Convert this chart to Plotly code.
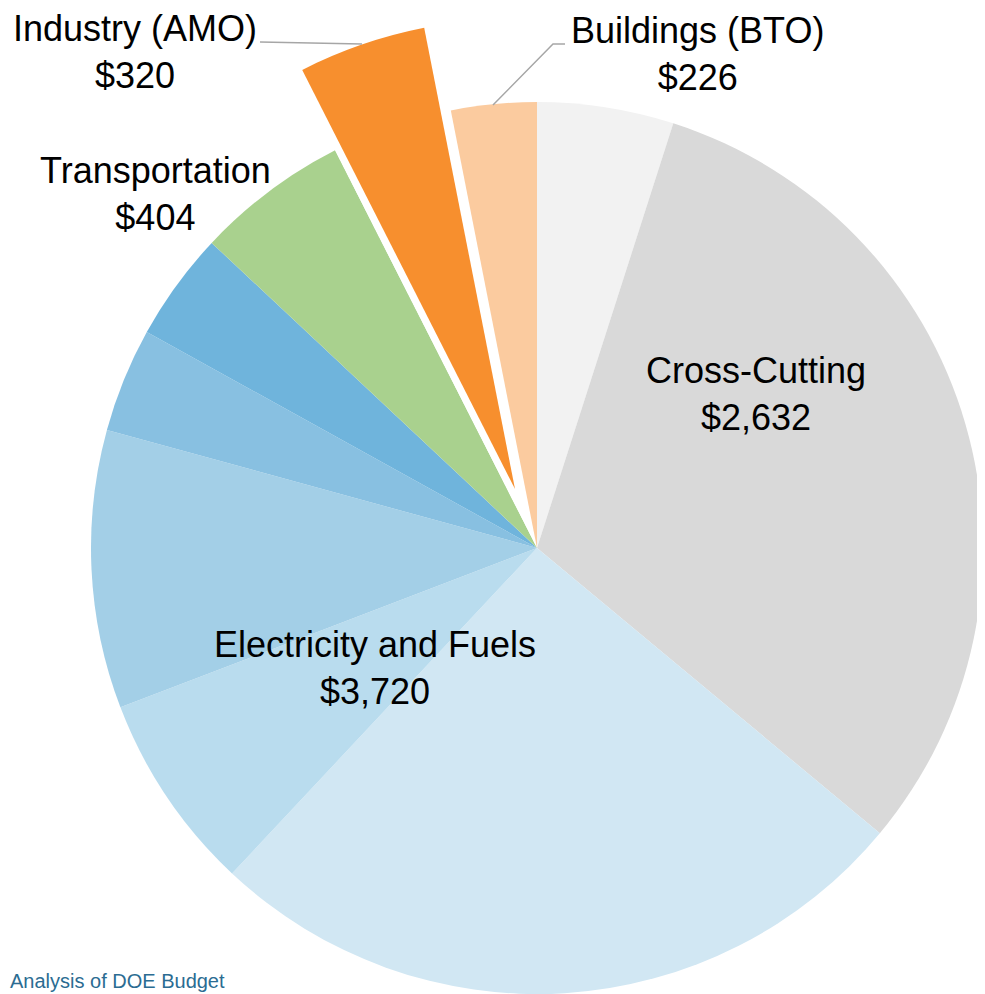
import plotly.graph_objects as go

# ---------------- data ----------------
labels = ["Cross-Cutting (part A)", "Cross-Cutting (part B)",
          "Electricity and Fuels (part A)", "Electricity and Fuels (part B)",
          "Electricity and Fuels (part C)", "Electricity and Fuels (part D)",
          "Electricity and Fuels (part E)",
          "Transportation", "Industry (AMO)", "Buildings (BTO)"]
values = [361, 2271, 1894, 526, 736, 276, 288, 404, 320, 226]

group_names = ["Cross-Cutting", "Electricity and Fuels", "Transportation",
               "Industry (AMO)", "Buildings (BTO)"]
group_totals = [2632, 3720, 404, 320, 226]

source_text = "Analysis of DOE Budget"

# ---------------- styles ----------------
colors = ["#f2f2f2", "#d9d9d9",
          "#d1e7f3", "#b9dcee", "#a3cfe7", "#88c0e1", "#6fb4dc",
          "#a9d18e", "#f78f2e", "#fbcb9f"]
pulled = "Industry (AMO)"

OFF = 8              # page body margin
W, H = 985 - OFF, 994 - OFF
FONT = "Liberation Sans, Arial, sans-serif"


def px(x):
    return (x - OFF) / W


def py(y):
    return 1 - (y - OFF) / H


def domain(cx, cy, r):
    return dict(x=[max(0, px(cx - r)), min(1, px(cx + r))],
                y=[max(0, py(cy + r)), min(1, py(cy - r))])


main_colors = ["#ffffff" if l == pulled else c for l, c in zip(labels, colors)]
pull_colors = [c if l == pulled else "rgba(0,0,0,0)" for l, c in zip(labels, colors)]

fig = go.Figure()
fig.add_trace(go.Pie(
    labels=labels, values=values, sort=False, direction="clockwise", rotation=0,
    marker=dict(colors=main_colors, line=dict(width=0)),
    textinfo="none", hoverinfo="label+value", showlegend=False,
    domain=domain(537, 548, 446),
))
fig.add_trace(go.Pie(
    labels=labels, values=values, sort=False, direction="clockwise", rotation=0,
    marker=dict(colors=pull_colors, line=dict(width=0)),
    textinfo="none", hoverinfo="skip", showlegend=False,
    domain=domain(515, 489, 470),
))

label_pos = {
    "Cross-Cutting": (756, 394),
    "Electricity and Fuels": (375, 668),
    "Transportation": (155, 194),
    "Industry (AMO)": (135, 52),
    "Buildings (BTO)": (697, 54),
}

annotations = []
for name, tot in zip(group_names, group_totals):
    x, y = label_pos[name]
    annotations.append(dict(
        text=f"{name}<br>${tot:,}", x=px(x), y=py(y), xref="paper", yref="paper",
        xanchor="center", yanchor="middle", showarrow=False,
        font=dict(family=FONT, size=36, color="#000000"),
    ))

annotations.append(dict(
    text=source_text, x=px(OFF), y=py(994), xref="paper", yref="paper",
    xanchor="left", yanchor="bottom", showarrow=False,
    font=dict(family=FONT, size=20, color="#2b6c92"),
))

shapes = [
    dict(type="path", path=f"M {px(260)} {py(42)} L {px(362)} {py(44)}",
         xref="paper", yref="paper", line=dict(color="#a6a6a6", width=1.5)),
    dict(type="path", path=f"M {px(565)} {py(44)} L {px(553)} {py(44)} L {px(493)} {py(105)}",
         xref="paper", yref="paper", line=dict(color="#a6a6a6", width=1.5)),
]

fig.update_layout(
    width=W, height=H, margin=dict(l=0, r=0, t=0, b=0),
    paper_bgcolor="#ffffff", plot_bgcolor="#ffffff",
    annotations=annotations, shapes=shapes, showlegend=False,
)

fig.write_html("out.html")
